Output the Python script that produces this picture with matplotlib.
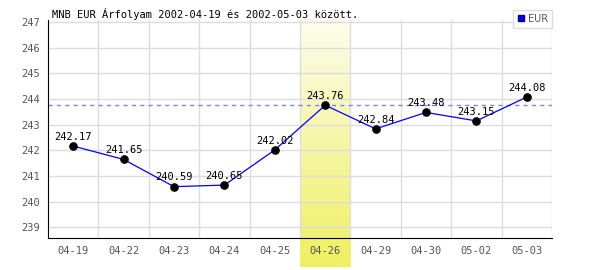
import numpy as np
import matplotlib.pyplot as plt
from matplotlib.lines import Line2D

# MNB EUR exchange rates
dates = ["04-19", "04-22", "04-23", "04-24", "04-25", "04-26",
         "04-29", "04-30", "05-02", "05-03"]
rates = [242.17, 241.65, 240.59, 240.65, 242.02, 243.76,
         242.84, 243.48, 243.15, 244.08]
highlight = "04-26"
yticks = [239, 240, 241, 242, 243, 244, 245, 246, 247]

mono = "DejaVu Sans Mono"
fig = plt.figure(figsize=(6, 2.7), dpi=100)
ax = fig.add_axes([0.08, 0.1185, 0.84, 0.8075])

x = np.arange(len(dates))
ymin, ymax = 238.59, 247.08

# highlighted day: yellow gradient column, runs below the axis over the label
hi = dates.index(highlight)
top_c = np.array([0.99, 0.99, 0.93])
bot_c = np.array([0.94, 0.94, 0.38])
t = np.linspace(0, 1, 200)[:, None]
grad = (top_c * (1 - t) + bot_c * t)[:, None, :]
ax.imshow(grad, extent=[hi - 0.5, hi + 0.5, ymin - 1.13, ymax],
          aspect="auto", origin="upper", clip_on=False, zorder=0.5,
          interpolation="bilinear")
ax.set_xlim(-0.5, len(dates) - 0.5)
ax.set_ylim(ymin, ymax)

# grid
for xv in np.arange(0.5, len(dates) + 0.5, 1):
    ax.axvline(xv, color="#dddddd", lw=1, zorder=1)
for yv in yticks:
    ax.axhline(yv, color="#dddddd", lw=1, zorder=1)

# reference line at highlighted value
ax.axhline(rates[hi], color="#7f7fff", lw=1, ls=(0, (3, 3)), zorder=2)

ax.plot(x, rates, color="blue", lw=0.9, zorder=3)
ax.plot(x, rates, "o", color="black", ms=5.2, zorder=4)
for xi, v in zip(x, rates):
    ax.annotate(f"{v:.2f}", (xi, v), xytext=(0, 3), textcoords="offset points",
                ha="center", va="bottom", fontsize=7.5, family=mono,
                color="black", zorder=5)

ax.set_xticks(x)
ax.set_xticklabels(dates)
ax.set_yticks(yticks)
ax.tick_params(length=0, labelsize=7.5, labelcolor="#555555", pad=6)
for lab in ax.get_xticklabels() + ax.get_yticklabels():
    lab.set_family(mono)

for s in ["top", "right"]:
    ax.spines[s].set_visible(False)
ax.spines["left"].set_color("black")
ax.spines["bottom"].set_color("black")
ax.spines["left"].set_zorder(6)
ax.spines["bottom"].set_zorder(6)

fig.text(52 / 600, 1 - 14 / 270,
         "MNB EUR Árfolyam 2002-04-19 és 2002-05-03 között.",
         fontsize=7.5, family=mono, va="center", ha="left", color="black")

handle = Line2D([], [], marker="s", color="blue", ls="none", ms=5,
                markeredgecolor="#000080")
leg = ax.legend([handle], ["EUR"], loc="upper right",
                bbox_to_anchor=(552 / 600, 1 - 10 / 270),
                bbox_transform=fig.transFigure, fancybox=False,
                framealpha=1, edgecolor="#dddddd", fontsize=7,
                handlelength=0.8, handletextpad=0.3, borderpad=0.4,
                borderaxespad=0)
leg.set_zorder(10)
for txt in leg.get_texts():
    txt.set_color("#555555")

fig.savefig("out.png", dpi=100)
